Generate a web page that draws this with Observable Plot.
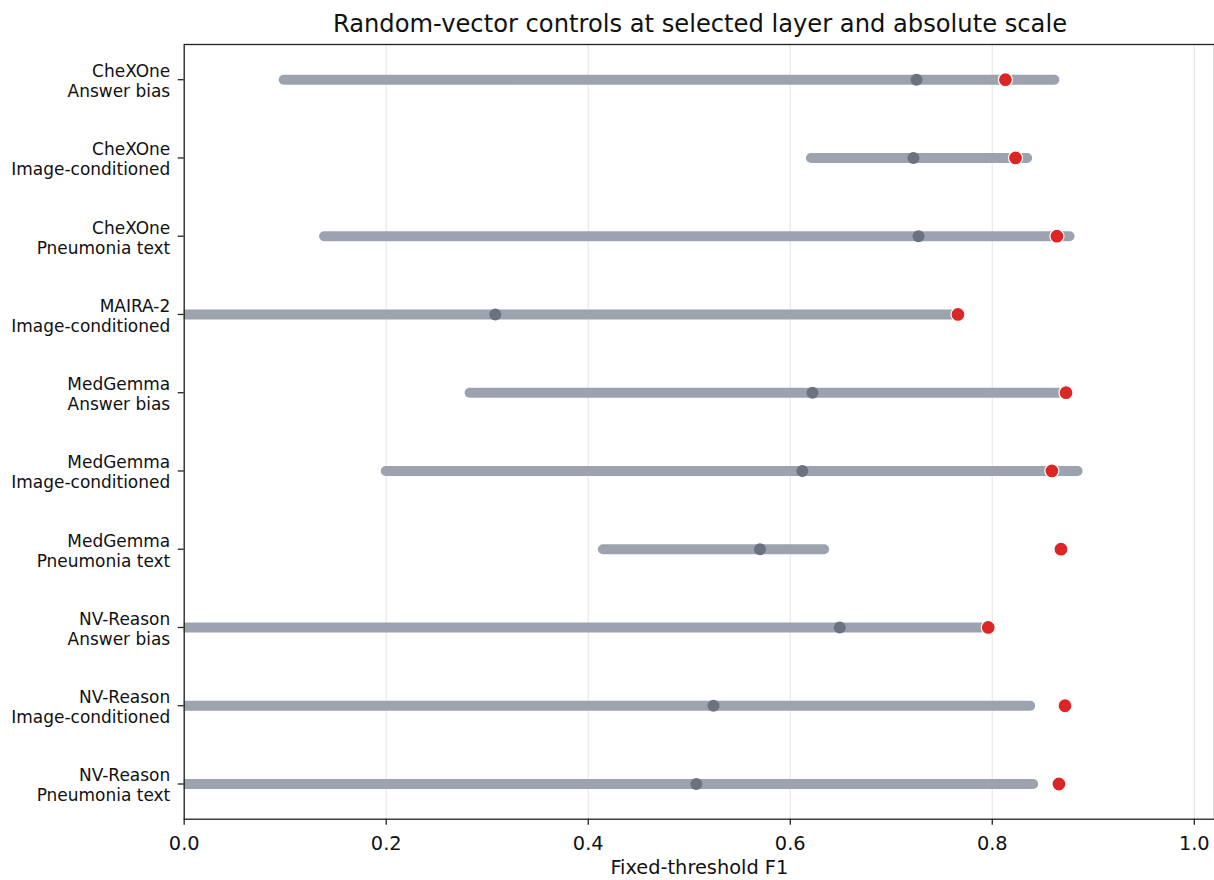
<!DOCTYPE html>
<html>
<head>
<meta charset="utf-8">
<script src="https://cdn.jsdelivr.net/npm/d3@7"></script>
<script src="https://cdn.jsdelivr.net/npm/@observablehq/plot@0.6"></script>
<style>
  html, body { margin: 0; padding: 0; background: #fff; overflow: hidden; }
  #wrap { width: 1214px; height: 880px; overflow: hidden; position: relative; font-family: "DejaVu Sans", sans-serif; }
  #title { position: relative; height: 40px; width: 1216px; box-sizing: border-box; padding-left: 184px; text-align: center; }
  #title span { display: block; line-height: 40px; position: relative; top: 3.8px; font-size: 24.2px; color: #111; }
  #chart svg { display: block; }
</style>
</head>
<body>
<div id="wrap">
  <div id="title"><span>Random-vector controls at selected layer and absolute scale</span></div>
  <div id="chart"></div>
</div>
<script>
const models = ["CheXOne","CheXOne","CheXOne","MAIRA-2","MedGemma","MedGemma","MedGemma","NV-Reason","NV-Reason","NV-Reason"];
const conditions = ["Answer bias","Image-conditioned","Pneumonia text","Image-conditioned","Answer bias","Image-conditioned","Pneumonia text","Answer bias","Image-conditioned","Pneumonia text"];
const randomMin = [0.099, 0.621, 0.139, 0.0, 0.283, 0.200, 0.415, 0.0, 0.0, 0.0];
const randomMax = [0.862, 0.835, 0.877, 0.762, 0.866, 0.885, 0.634, 0.790, 0.838, 0.841];
const randomMedian = [0.725, 0.722, 0.727, 0.308, 0.622, 0.612, 0.570, 0.649, 0.524, 0.507];
const selectedF1 = [0.813, 0.823, 0.864, 0.766, 0.873, 0.859, 0.868, 0.796, 0.872, 0.866];
const xTicks = [0, 0.2, 0.4, 0.6, 0.8, 1.0];

const data = models.map((m, i) => ({
  label: m + "\n" + conditions[i],
  min: randomMin[i], max: randomMax[i], median: randomMedian[i], selected: selectedF1[i]
}));
const labels = data.map(d => d.label);
const font = "DejaVu Sans";

const chart = Plot.plot({
  width: 1216,
  height: 840,
  marginLeft: 184,
  marginRight: 0,
  marginTop: 4,
  marginBottom: 60,
  style: { fontFamily: font, background: "#fff", color: "#111" },
  x: { domain: [0, 1.02] },
  y: { type: "point", domain: labels, padding: 0.45, round: false, axis: null },
  marks: [
    Plot.gridX(xTicks, { stroke: "#e8e8e8", strokeOpacity: 1, strokeWidth: 1.2 }),
    Plot.ruleY(data, { y: "label", x1: "min", x2: "max", stroke: "#9ca3af", strokeWidth: 10, strokeLinecap: "round", clip: true }),
    Plot.dot(data, { x: "median", y: "label", r: 6, fill: "#6b7280", stroke: "none" }),
    Plot.dot(data, { x: "selected", y: "label", r: 7, fill: "#dc2626", stroke: "#ffffff", strokeWidth: 1.2 }),
    Plot.frame({ stroke: "#222", strokeWidth: 1.3 }),
    Plot.axisY(labels, { y: d => d, tickSize: 6, tickFormat: () => "", stroke: "#222", strokeWidth: 1.3, label: null }),
    Plot.text(data, { y: "label", text: "label", frameAnchor: "left", textAnchor: "end", dx: -14, dy: 1, lineHeight: 1.18, fontSize: 17, fill: "#111" }),
    Plot.axisX({ ticks: xTicks, tickFormat: d3.format(".1f"), tickSize: 6, tickPadding: 11.5, fontSize: 19.4, stroke: "#222", strokeWidth: 1.3, fill: "#111", label: null }),
    Plot.text(["Fixed-threshold F1"], { frameAnchor: "bottom", dy: 49, text: d => d, fontSize: 19.4, fill: "#111", lineAnchor: "middle" })
  ]
});
document.getElementById("chart").appendChild(chart);
</script>
</body>
</html>
